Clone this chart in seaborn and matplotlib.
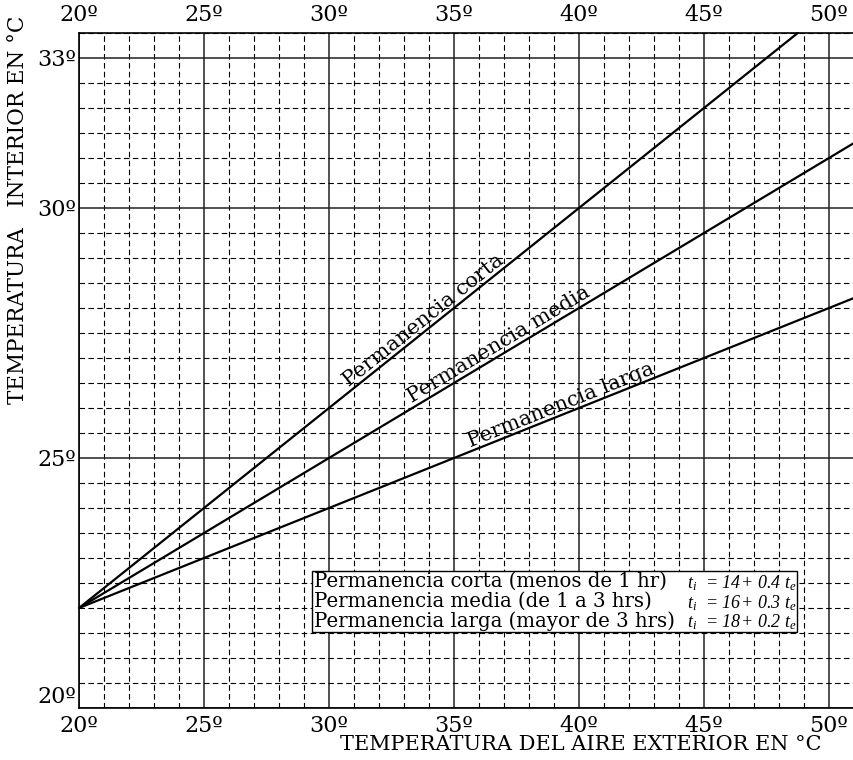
import math
import matplotlib
matplotlib.use("Agg")
import matplotlib.pyplot as plt
import seaborn as sns
import pandas as pd
from matplotlib.ticker import MultipleLocator, FixedLocator
from matplotlib.patches import Rectangle

# values (exterior temp -> interior temp)
te_corta = [20, 30, 40, 48.75]
ti_corta = [22, 26, 30, 33.5]
te_media = [20, 30, 40, 51]
ti_media = [22, 25, 28, 31.3]
te_larga = [20, 30, 40, 51]
ti_larga = [22, 24, 26, 28.2]

line_names = ["Permanencia corta", "Permanencia media", "Permanencia larga"]
label_x = [34.0, 37.0, 39.4]

legend_rows = ["Permanencia corta (menos de 1 hr)",
               "Permanencia media (de 1 a 3 hrs)",
               "Permanencia larga (mayor de 3 hrs)"]
formulas = [r"$t_i\ \,=\,14\!+\,0.4\ t_e$",
            r"$t_i\ \,=\,16\!+\,0.3\ t_e$",
            r"$t_i\ \,=\,18\!+\,0.2\ t_e$"]

x_ticks = [20, 25, 30, 35, 40, 45, 50]
y_ticks = [20, 25, 30, 33]

sns.set_style("white")
plt.rcParams["font.family"] = ["DejaVu Serif"]
plt.rcParams["text.color"] = "black"
plt.rcParams["xtick.color"] = "black"
plt.rcParams["ytick.color"] = "black"
plt.rcParams["mathtext.fontset"] = "custom"
plt.rcParams["mathtext.rm"] = "Liberation Serif:italic"
plt.rcParams["mathtext.it"] = "Liberation Serif:italic"

df = pd.concat([
    pd.DataFrame({"te": te_corta, "ti": ti_corta, "tipo": line_names[0]}),
    pd.DataFrame({"te": te_media, "ti": ti_media, "tipo": line_names[1]}),
    pd.DataFrame({"te": te_larga, "ti": ti_larga, "tipo": line_names[2]}),
])

fig = plt.figure(figsize=(8.54, 7.6), dpi=100)
ax = fig.add_axes([79 / 854, 52 / 760, 1 - 79 / 854, 675 / 760])

sns.lineplot(data=df, x="te", y="ti", hue="tipo", palette=["black"] * 3,
             linewidth=1.6, legend=False, ax=ax, zorder=5, clip_on=False)

ax.set_xlim(20, 51)
ax.set_ylim(20, 33.5)
ax.xaxis.set_major_locator(FixedLocator(x_ticks))
ax.xaxis.set_minor_locator(MultipleLocator(1))
ax.yaxis.set_major_locator(FixedLocator(y_ticks))
ax.yaxis.set_minor_locator(MultipleLocator(0.5))
ax.set_xticklabels([f"{v}º" for v in x_ticks])
ax.set_yticklabels([f"{v}º" for v in y_ticks])
ax.tick_params(which="both", length=0, labelsize=16,
               top=True, labeltop=True)
ax.tick_params(axis="x", pad=5)
ax.tick_params(axis="y", pad=2)
ax.get_yticklabels()[0].set_va("bottom")
ax.set_xlabel("")
ax.set_ylabel("")

ax.grid(which="major", linestyle="-", color="#222222", linewidth=1.1, zorder=1)
ax.grid(which="minor", linestyle=(0, (5, 3)), color="black", linewidth=0.8, zorder=1)
ax.set_axisbelow(True)
for s in ["left", "bottom", "top"]:
    ax.spines[s].set_color("black")
    ax.spines[s].set_linewidth(1.2)
ax.spines["right"].set_visible(False)

# labels along the lines
for name, xs, te, ti in zip(line_names, label_x,
                            [te_corta, te_media, te_larga],
                            [ti_corta, ti_media, ti_larga]):
    slope = (ti[1] - ti[0]) / (te[1] - te[0])
    yv = ti[0] + slope * (xs - te[0])
    ax.text(xs, yv, name, rotation=math.degrees(math.atan(slope)),
            transform_rotates_text=True, rotation_mode="anchor",
            ha="center", va="bottom", fontsize=15, zorder=6)

# legend box
ax.add_patch(Rectangle((29.32, 21.52), 19.4, 1.22, facecolor="white",
                       edgecolor="black", linewidth=1.0, zorder=4))
for i, (row, f) in enumerate(zip(legend_rows, formulas)):
    yy = 22.53 - i * 0.395
    ax.text(29.38, yy, row, ha="left", va="center", fontsize=14.2, zorder=6)
    ax.text(48.68, yy - 0.03, f, ha="right", va="center", fontsize=13, zorder=6)

fig.text(18 / 854, 1 - 210 / 760, "TEMPERATURA   INTERIOR EN °C", rotation=90,
         ha="center", va="center", fontsize=15.5)
fig.text(581 / 854, 1 - 745 / 760, "TEMPERATURA DEL AIRE EXTERIOR EN °C",
         ha="center", va="center", fontsize=15)

fig.savefig("out.png", dpi=100)
